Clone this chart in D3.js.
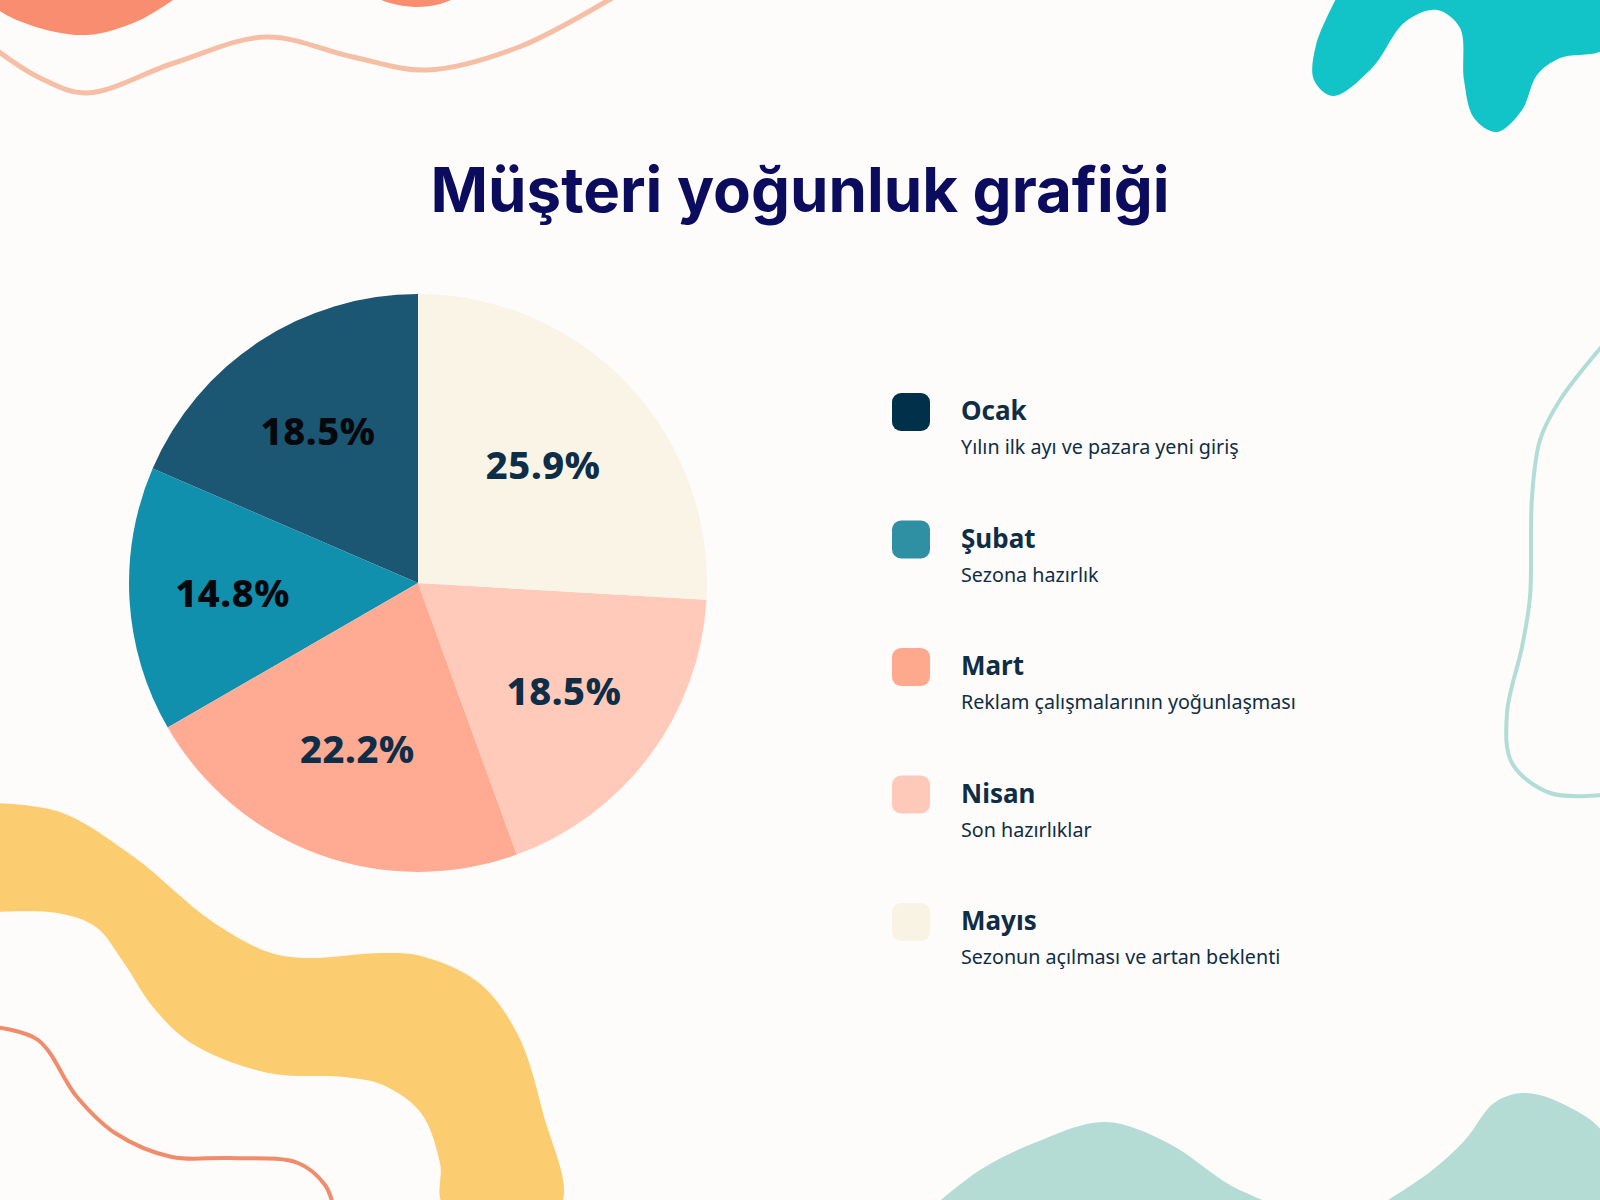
<!DOCTYPE html>
<html>
<head>
<meta charset="utf-8">
<script src="https://cdn.jsdelivr.net/npm/d3@7"></script>
<style>
  html, body { margin: 0; padding: 0; background: #fdfcfa; }
  svg { display: block; }
</style>
</head>
<body>
<svg id="chart"></svg>
<script>
var months = ["Ocak", "Şubat", "Mart", "Nisan", "Mayıs"];
var shares = [18.5, 14.8, 22.2, 18.5, 25.9];
var notes = [
  "Yılın ilk ayı ve pazara yeni giriş",
  "Sezona hazırlık",
  "Reklam çalışmalarının yoğunlaşması",
  "Son hazırlıklar",
  "Sezonun açılması ve artan beklenti"
];
var title_text = "Müşteri yoğunluk grafiği";

var pie_colors = ["#1b5672", "#1190ae", "#ffaa92", "#ffcaba", "#f9f4e6"];
var legend_colors = ["#01304a", "#2f8fa3", "#fea88e", "#fec9b9", "#f9f3e3"];
var label_colors = ["#05090e", "#05090e", "#0e2e48", "#0e2e48", "#0e2e48"];

var W = 1600, H = 1200;
var svg = d3.select("svg#chart").attr("width", W).attr("height", H);

svg.append("rect").attr("width", W).attr("height", H).attr("fill", "#fdfcfa");

// BACKGROUND DECORATION

var deco = svg.append("g");
var smooth = d3.line().curve(d3.curveCatmullRom.alpha(0.5));

function blob(pts, fill) {
  deco.append("path").attr("d", smooth(pts) + "Z").attr("fill", fill);
}
function wave(pts, stroke, w) {
  deco.append("path").attr("d", smooth(pts)).attr("fill", "none")
    .attr("stroke", stroke).attr("stroke-width", w).attr("stroke-linecap", "round");
}

blob([[-5, -5], [-5, 6], [30, 25], [87, 35], [140, 20], [180, -5]], "#f88d6f");
blob([[370, -5], [390, 3], [415, 7], [440, 4], [462, -5]], "#f88d6f");
wave([[-5, 49], [40, 78], [87, 93], [174, 63], [266, 37], [353, 57], [427, 70], [519, 47], [612, -2]], "#f6bfa5", 5);

blob([[1338, -5], [1316, 45], [1314, 80], [1333, 96], [1372, 68], [1405, 22], [1437, 10], [1460, 28],
      [1464, 80], [1474, 118], [1497, 132], [1522, 110], [1537, 75], [1560, 58], [1605, 48], [1605, -5]], "#12c3c8");

wave([[1603, 345], [1560, 400], [1540, 440], [1532, 497], [1530, 597], [1522, 647], [1507, 713],
      [1512, 763], [1550, 793], [1603, 795]], "#b2ddd6", 4);

blob([[-5, 803], [60, 812], [134, 857], [210, 920], [268, 952], [306, 958], [383, 953], [421, 956],
      [478, 982], [517, 1033], [543, 1113], [560, 1205], [444, 1205], [440, 1163], [421, 1113],
      [383, 1085], [344, 1077], [268, 1073], [191, 1043], [153, 1007], [122, 960], [96, 927],
      [57, 913], [-5, 912]], "#fccc70");

wave([[-5, 1027], [38, 1040], [77, 1097], [115, 1133], [172, 1157], [230, 1158], [298, 1163],
      [325, 1185], [333, 1205]], "#f08c6c", 4);

blob([[935, 1205], [980, 1170], [1034, 1143], [1105, 1122], [1168, 1143], [1230, 1185], [1275, 1205]], "#b4dcd5");
blob([[1380, 1205], [1430, 1172], [1465, 1140], [1494, 1103], [1523, 1093], [1561, 1103], [1605, 1136], [1605, 1205]], "#b4dcd5");

// TITLE

var title = svg.append("text")
  .attr("x", 800).attr("y", 212)
  .attr("text-anchor", "middle")
  .attr("font-family", "Inter, 'Noto Sans', sans-serif")
  .attr("font-weight", 700)
  .attr("font-size", 62)
  .attr("fill", "#0b0c5e")
  .text(title_text);
// fit to the width it has in the picture
var tl = title.node().getComputedTextLength();
title.attr("font-size", 62 * 739 / tl);

// PIE

var cx = 418, cy = 583, R = 289;
var pie = d3.pie().sort(null).startAngle(0).endAngle(-2 * Math.PI);
var arcs = pie(shares);
var arc = d3.arc().innerRadius(0).outerRadius(R);

var pie_g = svg.append("g").attr("transform", "translate(" + cx + "," + cy + ")");

pie_g.selectAll("path.slice")
  .data(arcs)
  .enter()
  .append("path")
  .attr("class", "slice")
  .attr("d", arc)
  .attr("fill", function(d, i) { return pie_colors[i]; });

// label sits on the centroid of each sector
function label_pos(d) {
  var mid = (d.startAngle + d.endAngle) / 2;
  var half = Math.abs(d.endAngle - d.startAngle) / 2;
  var r = 2 * R * Math.sin(half) / (3 * half);
  return [r * Math.sin(mid), -r * Math.cos(mid)];
}

var formatPct = d3.format(".1f");

pie_g.selectAll("text.pct")
  .data(arcs)
  .enter()
  .append("text")
  .attr("class", "pct")
  .attr("x", function(d) { return label_pos(d)[0]; })
  .attr("y", function(d) { return label_pos(d)[1]; })
  .attr("dy", "0.36em")
  .attr("text-anchor", "middle")
  .attr("font-family", "'Noto Sans', sans-serif")
  .attr("font-weight", 800)
  .attr("font-size", 38)
  .attr("letter-spacing", 0.6)
  .attr("fill", function(d, i) { return label_colors[i]; })
  .text(function(d) { return formatPct(d.data) + "%"; });

// LEGEND

var ly = d3.scalePoint().domain(d3.range(months.length)).range([393, 903]);

var legend = svg.append("g").selectAll("g")
  .data(months)
  .enter()
  .append("g")
  .attr("transform", function(d, i) { return "translate(892," + ly(i) + ")"; });

legend.append("rect")
  .attr("width", 38).attr("height", 38).attr("rx", 9)
  .attr("fill", function(d, i) { return legend_colors[i]; });

legend.append("text")
  .attr("x", 69).attr("y", 27)
  .attr("font-family", "'Noto Sans', sans-serif")
  .attr("font-weight", 700)
  .attr("font-size", 26)
  .attr("fill", "#0f2d45")
  .text(function(d) { return d; });

legend.append("text")
  .attr("x", 69).attr("y", 61)
  .attr("font-family", "'Noto Sans', sans-serif")
  .attr("font-size", 19.7)
  .attr("fill", "#0f2d45")
  .text(function(d, i) { return notes[i]; });
</script>
</body>
</html>
